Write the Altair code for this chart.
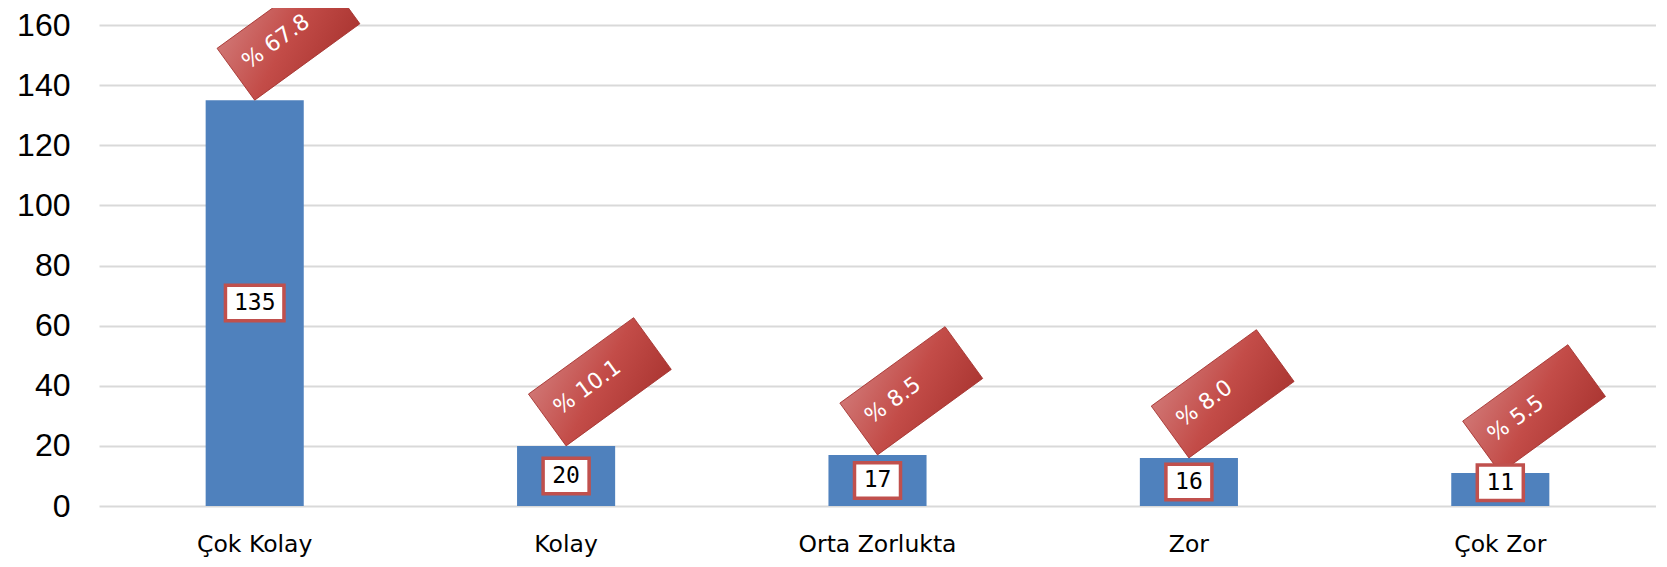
import altair as alt
import pandas as pd

categories = ["Çok Kolay", "Kolay", "Orta Zorlukta", "Zor", "Çok Zor"]
counts = [135, 20, 17, 16, 11]
percents = [67.8, 10.1, 8.5, 8.0, 5.5]
y_ticks = [0, 20, 40, 60, 80, 100, 120, 140, 160]

df = pd.DataFrame({"cat": categories, "n": counts, "pct": percents})

W = 1557
H = 481

x_enc = alt.X(
    "cat:N",
    sort=categories,
    scale=alt.Scale(paddingInner=0.685, paddingOuter=0.3425),
    axis=alt.Axis(
        title=None, labelAngle=0, labelFontSize=23.5, labelFont="DejaVu Sans",
        labelColor="#000000", labelPadding=26, ticks=False, tickSize=0,
        domain=False, grid=False,
    ),
)
y_axis = alt.Axis(
    title=None, values=y_ticks, labelFontSize=32, labelFont="Liberation Sans",
    labelColor="#000000", labelPadding=29, ticks=False, tickSize=0, domain=False,
    gridColor="#d9d9d9", gridWidth=2,
)
y_scale = alt.Scale(domain=[0, 160], nice=False)

base = alt.Chart(df).transform_calculate(
    ly="max(datum.n / 2, 7.7)",
    nlen="length(toString(datum.n))",
    ptxt="'% ' + format(datum.pct, '.1f')",
)

bars = base.mark_bar(color="#4f81bd").encode(
    x=x_enc, y=alt.Y("n:Q", scale=y_scale, axis=y_axis)
)

grad = alt.Gradient(
    gradient="linear",
    stops=[
        alt.GradientStop(color="#d07573", offset=0),
        alt.GradientStop(color="#c34c48", offset=0.5),
        alt.GradientStop(color="#ac3733", offset=1),
    ],
    x1=0, y1=0, x2=1, y2=1,
)

rect_path = "M0,0L2,0L2,-0.985L0,-0.985Z"
tags = base.mark_point(
    shape=rect_path, size=16900, angle=324, filled=True, fill=grad,
    stroke="#a3312d", strokeWidth=0.8, opacity=1,
).encode(x=x_enc, y=alt.Y("n:Q", scale=y_scale, axis=y_axis))

tag_text = base.mark_text(
    angle=324, dx=13, dy=-35, align="left", baseline="middle",
    font="DejaVu Sans", fontSize=22, color="#ffffff",
).encode(x=x_enc, y=alt.Y("n:Q", scale=y_scale, axis=y_axis), text="ptxt:N")

box2 = "M-1.15,-0.8875L1.15,-0.8875L1.15,0.8875L-1.15,0.8875Z"
box3 = "M-1.4625,-0.8875L1.4625,-0.8875L1.4625,0.8875L-1.4625,0.8875Z"
boxes = base.mark_point(
    size=1600, filled=True, fill="#ffffff", stroke="#c0504d", strokeWidth=3.5,
    opacity=1,
).encode(
    x=x_enc,
    y=alt.Y("ly:Q", scale=y_scale, axis=y_axis),
    shape=alt.Shape("nlen:O", scale=alt.Scale(domain=[2, 3], range=[box2, box3]), legend=None),
)

box_text = base.mark_text(
    font="DejaVu Sans Mono", fontSize=23, color="#000000", align="center", baseline="middle",
).encode(x=x_enc, y=alt.Y("ly:Q", scale=y_scale, axis=y_axis), text="n:Q")

chart = alt.layer(bars, tags, tag_text, boxes, box_text).properties(
    width=W, height=H,
    padding={"left": 91, "top": 17, "right": 0, "bottom": 51},
    autosize=alt.AutoSizeParams(type="none"),
    background="#ffffff",
).configure_view(stroke=None)

chart.save("out.html", embed_options={"renderer": "svg", "actions": False})
